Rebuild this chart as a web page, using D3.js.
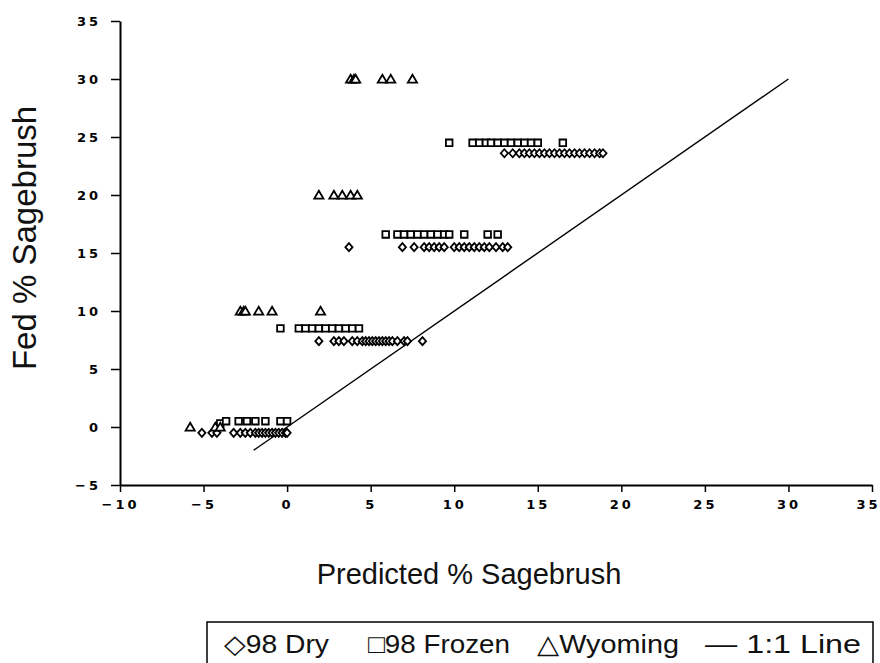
<!DOCTYPE html>
<html>
<head>
<meta charset="utf-8">
<script src="https://cdn.jsdelivr.net/npm/d3@7"></script>
<style>
  html, body { margin: 0; padding: 0; background: #fff; }
  svg { display: block; }
</style>
</head>
<body>
<svg id="chart" width="880" height="663"></svg>
<script>
// ---- data ----
const xTicks = [-10, -5, 0, 5, 10, 15, 20, 25, 30, 35];
const yTicks = [-5, 0, 5, 10, 15, 20, 25, 30, 35];

// 98 Dry (diamonds): [predicted, fed]
const dryPoints = [
  [13.0,23.6],[13.5,23.6],[13.9,23.6],[14.2,23.6],[14.5,23.6],[14.8,23.6],[15.1,23.6],[15.4,23.6],[15.7,23.6],[16.0,23.6],
  [16.3,23.6],[16.6,23.6],[16.9,23.6],[17.2,23.6],[17.5,23.6],[17.8,23.6],[18.1,23.6],[18.4,23.6],[18.7,23.6],[18.9,23.6],
  [3.7,15.5],[6.9,15.5],[7.6,15.5],[8.2,15.5],[8.5,15.5],[8.8,15.5],[9.1,15.5],[9.4,15.5],[10.0,15.5],[10.3,15.5],
  [10.6,15.5],[10.9,15.5],[11.2,15.5],[11.5,15.5],[11.8,15.5],[12.1,15.5],[12.5,15.5],[12.9,15.5],[13.2,15.5],
  [1.9,7.4],[2.8,7.4],[3.1,7.4],[3.4,7.4],[3.9,7.4],[4.2,7.4],[4.5,7.4],[4.7,7.4],[4.9,7.4],[5.1,7.4],
  [5.3,7.4],[5.5,7.4],[5.7,7.4],[5.9,7.4],[6.1,7.4],[6.3,7.4],[6.6,7.4],[7.0,7.4],[7.2,7.4],[8.1,7.4],
  [-5.1,-0.5],[-4.5,-0.5],[-4.2,-0.5],[-3.2,-0.5],[-2.8,-0.5],[-2.5,-0.5],[-2.2,-0.5],[-1.9,-0.5],[-1.7,-0.5],
  [-1.5,-0.5],[-1.3,-0.5],[-1.1,-0.5],[-0.9,-0.5],[-0.7,-0.5],[-0.5,-0.5],[-0.3,-0.5],[-0.1,-0.5],[0.0,-0.5]
];

// 98 Frozen (squares): [predicted, fed]
const frozenPoints = [
  [9.7,24.5],[11.1,24.5],[11.5,24.5],[11.9,24.5],[12.2,24.5],[12.6,24.5],[13.0,24.5],[13.4,24.5],[13.8,24.5],
  [14.2,24.5],[14.6,24.5],[15.0,24.5],[16.5,24.5],
  [5.9,16.6],[6.6,16.6],[7.0,16.6],[7.4,16.6],[7.8,16.6],[8.2,16.6],[8.6,16.6],[9.0,16.6],[9.4,16.6],[9.7,16.6],
  [10.6,16.6],[12.0,16.6],[12.6,16.6],
  [-0.4,8.5],[0.7,8.5],[1.1,8.5],[1.5,8.5],[1.9,8.5],[2.3,8.5],[2.7,8.5],[3.1,8.5],[3.5,8.5],[3.9,8.5],[4.3,8.5],
  [-4.0,0.3],[-3.65,0.5],[-2.9,0.5],[-2.4,0.5],[-1.9,0.5],[-1.3,0.5],[-0.4,0.5],[0.0,0.5]
];

// Wyoming (triangles): [predicted, fed]
const wyomingPoints = [
  [3.8,30],[4.0,30],[4.1,30],[5.7,30],[6.2,30],[7.5,30],
  [1.9,20],[2.8,20],[3.3,20],[3.8,20],[4.2,20],
  [-2.8,10],[-2.6,10],[-2.5,10],[-1.7,10],[-0.9,10],[2.0,10],
  [-5.8,0],[-4.3,0],[-4.0,0]
];

// 1:1 line endpoints
const oneToOne = [[-2,-2],[30,30]];

const legendItems = ["\u25C798 Dry", "\u25A198 Frozen", "\u25B3Wyoming", "\u2014 1:1 Line"];

// ---- drawing ----
const svg = d3.select("#chart");
const x = d3.scaleLinear().domain([-10, 35]).range([120, 872]);
const y = d3.scaleLinear().domain([-5, 35]).range([485, 21]);

function styleTicks(g) {
  g.selectAll(".tick text")
    .style("font-family", "'DejaVu Sans', Arial, sans-serif")
    .style("font-weight", "bold")
    .style("font-size", "13px")
    .style("letter-spacing", "3px")
    .attr("fill", "#000");
}

// axes
const xAxis = svg.append("g").attr("transform", `translate(0,${y(-5)})`)
  .call(d3.axisBottom(x).tickValues(xTicks).tickSize(7).tickSizeOuter(0).tickPadding(8));
xAxis.select(".domain").attr("stroke-width", 2);
xAxis.selectAll(".tick line").attr("stroke-width", 1.5);
styleTicks(xAxis);
xAxis.selectAll(".tick text").filter(d => d === 35).attr("text-anchor", "end").attr("dx", "8");

const yAxis = svg.append("g").attr("transform", `translate(${x(-10)},0)`)
  .call(d3.axisLeft(y).tickValues(yTicks).tickSize(9).tickSizeOuter(0).tickPadding(10));
yAxis.select(".domain").attr("stroke-width", 2);
yAxis.selectAll(".tick line").attr("stroke-width", 1.5);
styleTicks(yAxis);

// 1:1 line
svg.append("path")
  .attr("d", d3.line().x(d => x(d[0])).y(d => y(d[1]))(oneToOne))
  .attr("fill", "none").attr("stroke", "#000").attr("stroke-width", 1.4);

// markers
const diamond = "M0,-4L3.6,0L0,4L-3.6,0Z";
const square = "M-3.3,-3.3H3.3V3.3H-3.3Z";
const triangle = "M0,-4.3L4.6,3.6H-4.6Z";

function drawSeries(data, shape) {
  svg.append("g").selectAll("path").data(data).join("path")
    .attr("d", shape)
    .attr("transform", d => `translate(${x(d[0])},${y(d[1])})`)
    .attr("fill", "#fff").attr("stroke", "#000").attr("stroke-width", 1.8);
}
drawSeries(frozenPoints, square);
drawSeries(dryPoints, diamond);
drawSeries(wyomingPoints, triangle);

// axis titles
svg.append("text")
  .attr("x", 469).attr("y", 584)
  .attr("text-anchor", "middle")
  .style("font-family", "Liberation Sans, Arial, sans-serif")
  .style("font-size", "29px").attr("fill", "#111")
  .text("Predicted % Sagebrush");

svg.append("text")
  .attr("transform", "translate(36,238) rotate(-90)")
  .attr("text-anchor", "middle")
  .style("font-family", "Liberation Sans, Arial, sans-serif")
  .style("font-size", "33px").attr("fill", "#111")
  .text("Fed % Sagebrush");

// legend
svg.append("rect")
  .attr("x", 207).attr("y", 622).attr("width", 666).attr("height", 45)
  .attr("fill", "none").attr("stroke", "#000").attr("stroke-width", 1.5);

const legendX = [224, 368, 537, 705];
const legendW = [105, 142, 142, 156];
svg.append("g").selectAll("text").data(legendItems).join("text")
  .attr("x", (d, i) => legendX[i]).attr("y", 653)
  .attr("textLength", (d, i) => legendW[i])
  .attr("lengthAdjust", "spacingAndGlyphs")
  .style("font-family", "Liberation Sans, Arial, sans-serif")
  .style("font-size", "26px").attr("fill", "#111")
  .text(d => d);
</script>
</body>
</html>
